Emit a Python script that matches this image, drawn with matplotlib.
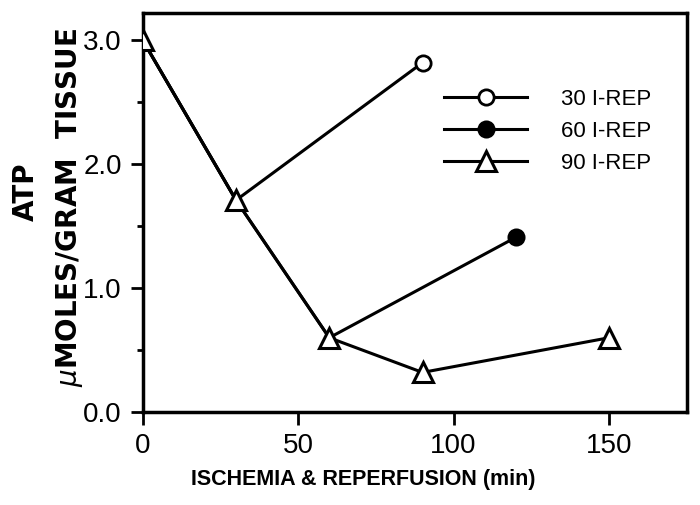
import matplotlib.pyplot as plt

# time (min) and ATP (umoles/gram tissue)
x_30 = [0, 30, 90]
atp_30 = [3.0, 1.71, 2.82]
x_60 = [0, 30, 60, 120]
atp_60 = [3.0, 1.71, 0.60, 1.41]
x_90 = [0, 30, 60, 90, 150]
atp_90 = [3.0, 1.71, 0.60, 0.32, 0.60]

labels = ["30 I-REP", "60 I-REP", "90 I-REP"]
xticks = [0, 50, 100, 150]
yticks = [0.0, 1.0, 2.0, 3.0]

plt.rcParams['font.family'] = ['Liberation Sans', 'DejaVu Sans']

fig = plt.figure(figsize=(7, 5.05), dpi=100)
ax = fig.add_axes([0.204, 0.184, 0.777, 0.79])

l30, = ax.plot(x_30, atp_30, color='black', lw=2.2, marker='o', ms=11,
               mfc='white', mec='black', mew=2, markevery=[-1], zorder=3)
l60, = ax.plot(x_60, atp_60, color='black', lw=2.2, marker='o', ms=11,
               mfc='black', mec='black', mew=2, markevery=[-1], zorder=3)
l90, = ax.plot(x_90, atp_90, color='black', lw=2.2, marker='^', ms=15,
               mfc='white', mec='black', mew=2.2, zorder=4)

ax.set_xlim(0, 175)
ax.set_ylim(0, 3.22)
ax.set_xticks(xticks)
ax.set_yticks(yticks)
ax.set_yticklabels([f"{v:.1f}" for v in yticks])
ax.set_yticks([0.5, 1.5, 2.5], minor=True)
ax.tick_params(axis='both', which='major', direction='out', length=9, width=2,
               labelsize=20, pad=6)
ax.tick_params(axis='y', which='minor', direction='out', length=4, width=2)
for s in ax.spines.values():
    s.set_linewidth(2.5)

ax.legend([l30, l60, l90], labels, loc='upper left', numpoints=1,
          bbox_to_anchor=(0.517, 0.86), frameon=False, fontsize=16,
          handlelength=3.75, handletextpad=1.5, labelspacing=0.5)

fig.text(363 / 700, 1 - 479 / 505, "ISCHEMIA & REPERFUSION (min)",
         fontsize=15.5, fontweight='bold', ha='center', va='center')
fig.text(26 / 700, 1 - 192 / 505, "ATP", fontsize=20, fontweight='bold',
         rotation=90, ha='center', va='center', family='DejaVu Sans')
fig.text(70 / 700, 1 - 207 / 505, r"$\mu$MOLES/GRAM  TISSUE", fontsize=20,
         fontweight='bold', rotation=90, ha='center', va='center',
         family='DejaVu Sans')

fig.savefig("out.png", dpi=100)
